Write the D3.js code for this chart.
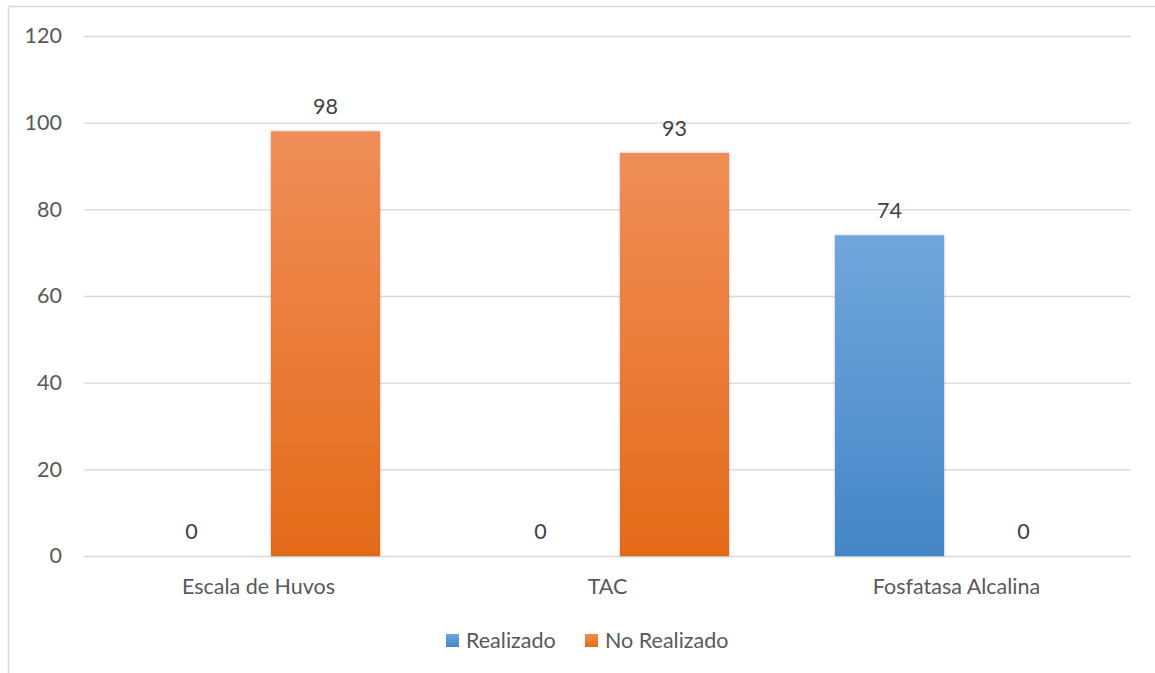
<!DOCTYPE html>
<html><head><meta charset="utf-8">
<script src="https://cdn.jsdelivr.net/npm/d3@7"></script>
<style>body{margin:0;background:#fff}svg{display:block;font-family:Lato,"Open Sans",sans-serif}</style>
</head><body><svg id="c" width="1155" height="673"></svg>
<script>
const categories = ["Escala de Huvos", "TAC", "Fosfatasa Alcalina"];
const seriesNames = ["Realizado", "No Realizado"];
const realizado = [0, 0, 74];
const noRealizado = [98, 93, 0];
const yTicks = [0, 20, 40, 60, 80, 100, 120];
const FS = 21.5;

const svg = d3.select("#c");
const defs = svg.append("defs");
const grads = [["gBlue", "#70a6dc", "#4386c7"], ["gOrange", "#f08d58", "#e36a18"]];
grads.forEach(([id, a, b]) => {
  const g = defs.append("linearGradient").attr("id", id).attr("x1", 0).attr("y1", 0).attr("x2", 0).attr("y2", 1);
  g.append("stop").attr("offset", "0%").attr("stop-color", a);
  g.append("stop").attr("offset", "50%").attr("stop-color", d3.interpolateRgb(a, b)(0.5));
  g.append("stop").attr("offset", "100%").attr("stop-color", b);
});
const f = defs.append("filter").attr("id", "sh").attr("x", "-10%").attr("y", "-10%").attr("width", "120%").attr("height", "120%");
f.append("feDropShadow").attr("dx", 0).attr("dy", 0).attr("stdDeviation", 1.5).attr("flood-color", "#000").attr("flood-opacity", 0.3);

// chart border
svg.append("path").attr("d", "M8.5,673 V6.5 H1155").attr("fill", "none").attr("stroke", "#d9d9d9").attr("stroke-width", 1.5);

const y = d3.scaleLinear().domain([0, 120]).range([556, 36]);
const x0 = d3.scaleBand().domain(categories).range([84, 1131]).padding(0);
const x1 = d3.scaleBand().domain(seriesNames).range([0, x0.bandwidth()]).paddingInner(0.1866).paddingOuter(0.3955);

// gridlines
const yAxis = d3.axisLeft(y).tickValues(yTicks).tickSize(-(1131 - 84)).tickPadding(22);
const ga = svg.append("g").attr("transform", "translate(84,0)").call(yAxis);
ga.select(".domain").remove();
ga.selectAll(".tick line").attr("stroke", "#d9d9d9").attr("stroke-width", 1.3);
ga.selectAll(".tick text").attr("fill", "#595959").attr("font-size", FS).attr("font-family", "Lato,sans-serif");

const data = categories.map((c, i) => ({ c, vals: [realizado[i], noRealizado[i]] }));
const fills = ["url(#gBlue)", "url(#gOrange)"];

const grp = svg.append("g").selectAll("g").data(data).join("g")
  .attr("transform", d => `translate(${x0(d.c)},0)`);
grp.selectAll("rect").data(d => d.vals.map((v, j) => ({ v, s: seriesNames[j], j })).filter(e => e.v > 0))
  .join("rect")
  .attr("x", e => x1(e.s)).attr("width", x1.bandwidth())
  .attr("y", e => y(e.v)).attr("height", e => y(0) - y(e.v))
  .attr("fill", e => fills[e.j]).attr("filter", "url(#sh)");
grp.selectAll("text").data(d => d.vals.map((v, j) => ({ v, s: seriesNames[j] })))
  .join("text")
  .attr("x", e => x1(e.s) + x1.bandwidth() / 2)
  .attr("y", e => y(e.v) - 17)
  .attr("text-anchor", "middle").attr("fill", "#404040").attr("font-size", FS)
  .text(e => e.v);

// category labels
svg.append("g").selectAll("text").data(categories).join("text")
  .attr("x", d => x0(d) + x0.bandwidth() / 2).attr("y", 594)
  .attr("text-anchor", "middle").attr("fill", "#595959").attr("font-size", FS)
  .text(d => d);

// legend
const legendX = [446, 585];
const lg = svg.append("g").selectAll("g").data(seriesNames).join("g")
  .attr("transform", (d, i) => `translate(${legendX[i]},634)`);
lg.append("rect").attr("width", 13).attr("height", 13).attr("fill", (d, i) => i === 0 ? "url(#gBlue)" : "url(#gOrange)");
lg.append("text").attr("x", 20).attr("y", 14).attr("fill", "#595959").attr("font-size", FS).text(d => d);
</script></body></html>
